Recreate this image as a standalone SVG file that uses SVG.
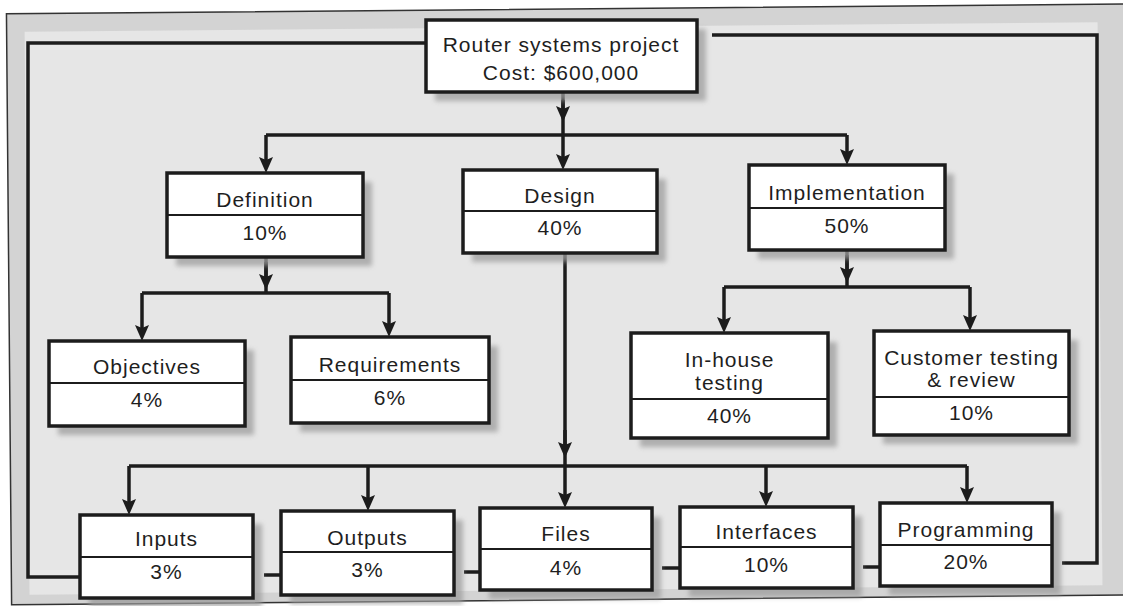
<svg xmlns="http://www.w3.org/2000/svg" width="1123" height="606" viewBox="0 0 1123 606">
<style>
.box{fill:#fff;stroke:#1c1c1c;stroke-width:3.5}
.div{stroke:#1c1c1c;stroke-width:2}
.sh{fill:#9c9c9c;opacity:0.75;filter:url(#blur)}
.t{font-family:"Liberation Sans",Arial,Helvetica,sans-serif;font-size:21px;letter-spacing:1px;fill:#1e1e1e;text-anchor:middle}
.ln{fill:none;stroke:#1c1c1c;stroke-width:3.5}
.ar{fill:none;stroke:#1c1c1c;stroke-width:3.5;marker-end:url(#ah)}
</style>
<defs>
<filter id="blur" x="-10%" y="-10%" width="120%" height="120%"><feGaussianBlur stdDeviation="2.5"/></filter>
<marker id="ah" markerUnits="userSpaceOnUse" markerWidth="16" markerHeight="14" viewBox="0 0 16 14" refX="10" refY="7" orient="auto">
<path d="M0,0 L16,7 L0,14 L3,7 z" fill="#1c1c1c"/>
</marker>
</defs>
<rect x="0" y="0" width="1123" height="606" fill="#fff"/>
<g id="frame" transform="rotate(-0.5 561 303)">
<rect x="9" y="9" width="1125" height="591" fill="#d3d3d3" stroke="#333" stroke-width="1.5"/>
<rect x="27" y="27" width="1073" height="563" fill="#e6e6e6"/>
</g>
<g id="connectors">
<path class="ln" d="M426,43 H28 V577 H80"/>
<path class="ln" d="M712,35 H1097 V563 H1062"/>
<path class="ln" d="M563,92 V135"/>
<path class="ar" d="M563,100 V116"/>
<path class="ln" d="M266,135 H847"/>
<path class="ar" d="M266,135 V167"/>
<path class="ar" d="M563,135 V164"/>
<path class="ar" d="M847,135 V159"/>
<path class="ln" d="M266,257 V293"/>
<path class="ar" d="M266,262 V284"/>
<path class="ln" d="M142,293 H389"/>
<path class="ar" d="M142,293 V335"/>
<path class="ar" d="M389,293 V331"/>
<path class="ln" d="M847,250 V287"/>
<path class="ar" d="M847,255 V277"/>
<path class="ln" d="M724,287 H970"/>
<path class="ar" d="M724,287 V327"/>
<path class="ar" d="M970,287 V325"/>
<path class="ln" d="M565,253 V466"/>
<path class="ar" d="M565,430 V452"/>
<path class="ln" d="M129,466 H967"/>
<path class="ar" d="M129,466 V509"/>
<path class="ar" d="M368,466 V505"/>
<path class="ar" d="M565,466 V502"/>
<path class="ar" d="M766,466 V501"/>
<path class="ar" d="M967,466 V497"/>
<path class="ln" d="M264,575 H281"/>
<path class="ln" d="M464,572 H480"/>
<path class="ln" d="M662,568 H680"/>
<path class="ln" d="M863,567 H880"/>
</g>
<g id="root">
<rect class="sh" x="435" y="29" width="271" height="72"/>
<rect class="box" x="426" y="20" width="271" height="72"/>
<text class="t" x="561" y="52">Router systems project</text>
<text class="t" x="561" y="80">Cost: $600,000</text>
</g>
<g id="definition">
<rect class="sh" x="176" y="182" width="196" height="84"/>
<rect class="box" x="167" y="173" width="196" height="84"/>
<line class="div" x1="167" y1="215" x2="363" y2="215"/>
<text class="t" x="265" y="207">Definition</text>
<text class="t" x="265" y="240">10%</text>
</g>
<g id="design">
<rect class="sh" x="472" y="179" width="194" height="83"/>
<rect class="box" x="463" y="170" width="194" height="83"/>
<line class="div" x1="463" y1="211" x2="657" y2="211"/>
<text class="t" x="560" y="203">Design</text>
<text class="t" x="560" y="235">40%</text>
</g>
<g id="implementation">
<rect class="sh" x="758" y="174" width="196" height="85"/>
<rect class="box" x="749" y="165" width="196" height="85"/>
<line class="div" x1="749" y1="208" x2="945" y2="208"/>
<text class="t" x="847" y="200">Implementation</text>
<text class="t" x="847" y="233">50%</text>
</g>
<g id="objectives">
<rect class="sh" x="58" y="350" width="196" height="85"/>
<rect class="box" x="49" y="341" width="196" height="85"/>
<line class="div" x1="49" y1="383" x2="245" y2="383"/>
<text class="t" x="147" y="374">Objectives</text>
<text class="t" x="147" y="407">4%</text>
</g>
<g id="requirements">
<rect class="sh" x="300" y="346" width="198" height="86"/>
<rect class="box" x="291" y="337" width="198" height="86"/>
<line class="div" x1="291" y1="380" x2="489" y2="380"/>
<text class="t" x="390" y="372">Requirements</text>
<text class="t" x="390" y="405">6%</text>
</g>
<g id="inhouse">
<rect class="sh" x="640" y="342" width="197" height="105"/>
<rect class="box" x="631" y="333" width="197" height="105"/>
<line class="div" x1="631" y1="399" x2="828" y2="399"/>
<text class="t" x="729.5" y="367">In-house</text>
<text class="t" x="729.5" y="390">testing</text>
<text class="t" x="729.5" y="423">40%</text>
</g>
<g id="customer">
<rect class="sh" x="883" y="340" width="195" height="104"/>
<rect class="box" x="874" y="331" width="195" height="104"/>
<line class="div" x1="874" y1="397" x2="1069" y2="397"/>
<text class="t" x="971.5" y="365">Customer testing</text>
<text class="t" x="971.5" y="387">&amp; review</text>
<text class="t" x="971.5" y="420">10%</text>
</g>
<g id="inputs">
<rect class="sh" x="89" y="524" width="173" height="83"/>
<rect class="box" x="80" y="515" width="173" height="83"/>
<line class="div" x1="80" y1="557" x2="253" y2="557"/>
<text class="t" x="166.5" y="546">Inputs</text>
<text class="t" x="166.5" y="579">3%</text>
</g>
<g id="outputs">
<rect class="sh" x="290" y="520" width="173" height="84"/>
<rect class="box" x="281" y="511" width="173" height="84"/>
<line class="div" x1="281" y1="552" x2="454" y2="552"/>
<text class="t" x="367.5" y="545">Outputs</text>
<text class="t" x="367.5" y="577">3%</text>
</g>
<g id="files">
<rect class="sh" x="489" y="517" width="172" height="82"/>
<rect class="box" x="480" y="508" width="172" height="82"/>
<line class="div" x1="480" y1="549" x2="652" y2="549"/>
<text class="t" x="566" y="541">Files</text>
<text class="t" x="566" y="575">4%</text>
</g>
<g id="interfaces">
<rect class="sh" x="689" y="516" width="173" height="81"/>
<rect class="box" x="680" y="507" width="173" height="81"/>
<line class="div" x1="680" y1="547" x2="853" y2="547"/>
<text class="t" x="766.5" y="539">Interfaces</text>
<text class="t" x="766.5" y="572">10%</text>
</g>
<g id="programming">
<rect class="sh" x="889" y="512" width="172" height="83"/>
<rect class="box" x="880" y="503" width="172" height="83"/>
<line class="div" x1="880" y1="545" x2="1052" y2="545"/>
<text class="t" x="966" y="537">Programming</text>
<text class="t" x="966" y="569">20%</text>
</g>
</svg>
